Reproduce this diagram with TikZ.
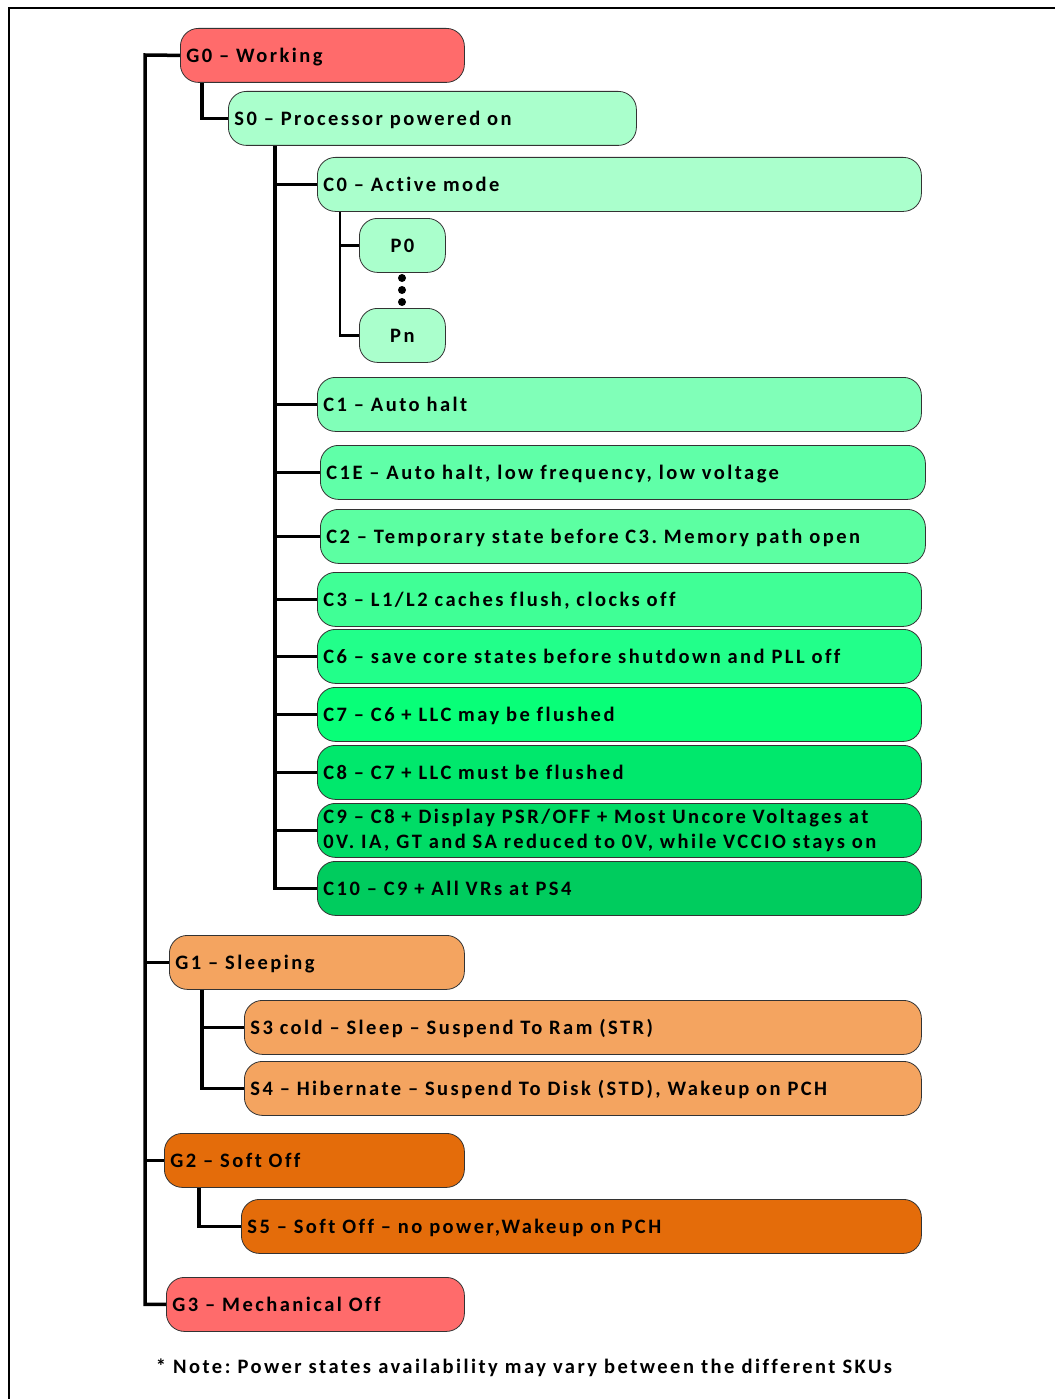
\documentclass[tikz,border=0pt]{standalone}
\usepackage{fontspec}
\setmainfont{Carlito}[LetterSpace=12, Ligatures=NoCommon]
\usetikzlibrary{positioning}

\definecolor{gred}{HTML}{FF6B6B}
\definecolor{mint}{HTML}{AAFFCC}
\definecolor{cone}{HTML}{80FFB8}
\definecolor{conee}{HTML}{60FFA8}
\definecolor{ctwo}{HTML}{5CFFA2}
\definecolor{cthree}{HTML}{40FF96}
\definecolor{csix}{HTML}{22FF8A}
\definecolor{cseven}{HTML}{08FF78}
\definecolor{ceight}{HTML}{00E86C}
\definecolor{cnine}{HTML}{00DC66}
\definecolor{cten}{HTML}{00CC5E}
\definecolor{sandy}{HTML}{F4A460}
\definecolor{burnt}{HTML}{E46C0A}

\tikzset{
  state/.style={draw=black!80, line width=0.8pt, rounded corners=18pt,
    anchor=north west, minimum height=54pt, inner xsep=6pt, inner ysep=0pt,
    text height=17pt, text depth=3pt,
    align=left, font=\bfseries\fontsize{20.5}{25}\selectfont},
  link/.style={line width=3.5pt},
  sublink/.style={line width=2.5pt},
}

\begin{document}
\frenchspacing
\begin{tikzpicture}[x=1pt, y=-1pt]
    \useasboundingbox (0, 0) rectangle (1055, 1399);
    \draw[line width=2pt] (9, 1399) -- (9, 8) -- (1055, 8);

    % global and sleep states
    \node[state, fill=gred, text width=272pt] (g0) at (180, 28) {G0 – Working};
    \node[state, fill=mint, text width=396pt] (s0) at (228, 91) {S0 – Processor powered on};

    % C states
    \node[state, fill=mint, text width=592pt] (c0) at (317, 157) {C0 – Active mode};
    \node[state, fill=mint, text width=74pt, align=center] (p0) at (359, 218) {P0};
    \node[state, fill=mint, text width=74pt, align=center] (pn) at (359, 308) {Pn};
    \node[state, fill=cone, text width=592pt] (c1) at (317, 377) {C1 – Auto halt};
    \node[state, fill=conee, text width=593pt] (c1e) at (320, 445)
	{C1E – Auto halt, low frequency, low voltage};
    \node[state, fill=ctwo, text width=593pt] (c2) at (320, 509)
	{C2 – Temporary state before C3. Memory path open};
    \node[state, fill=cthree, text width=592pt] (c3) at (317, 572)
	{C3 – L1/L2 caches flush, clocks off};
    \node[state, fill=csix, text width=592pt] (c6) at (317, 629)
	{C6 – save core states before shutdown and PLL off};
    \node[state, fill=cseven, text width=592pt] (c7) at (317, 687)
	{C7 – C6 + LLC may be flushed};
    \node[state, fill=ceight, text width=592pt] (c8) at (317, 745)
	{C8 – C7 + LLC must be flushed};
    \node[state, fill=cnine, text width=592pt, text height=, text depth=] (c9) at (317, 803)
	{C9 – C8 + Display PSR/OFF + Most Uncore Voltages at\\
	 0V. IA, GT and SA reduced to 0V, while VCCIO stays on};
    \node[state, fill=cten, text width=592pt] (c10) at (317, 861)
	{C10 – C9 + All VRs at PS4};

    \node[state, fill=sandy, text width=283pt] (g1) at (169, 935) {G1 – Sleeping};
    \node[state, fill=sandy, text width=665pt] (s3) at (244, 1000)
	{S3 cold – Sleep – Suspend To Ram (STR)};
    \node[state, fill=sandy, text width=665pt] (s4) at (244, 1061)
	{S4 – Hibernate – Suspend To Disk (STD), Wakeup on PCH};
    \node[state, fill=burnt, text width=288pt] (g2) at (164, 1133) {G2 – Soft Off};
    \node[state, fill=burnt, text width=668pt] (s5) at (241, 1199)
	{S5 – Soft Off – no power,Wakeup on PCH};
    \node[state, fill=gred, text width=286pt] (g3) at (166, 1277) {G3 – Mechanical Off};

    % tree lines
    \coordinate (gtrunk) at (145, 55);
    \coordinate (strunk) at ([xshift=47pt]s0.south west);
    \coordinate (ptrunk) at ([xshift=23pt]c0.south west);
    \coordinate (sltrunk) at ([xshift=33pt]g1.south west);
    \draw[link] (g0.west) -- (gtrunk) |- (g3.west);
    \foreach \n in {g1, g2}
	\draw[link] (\n.west -| gtrunk) -- (\n.west);
    \draw[link] ([xshift=22pt]g0.south west) |- (s0.west);
    \draw[link] (strunk) |- (c10.west);
    \foreach \n in {c0, c1, c1e, c2, c3, c6, c7, c8, c9}
	\draw[link] (\n.west -| strunk) -- (\n.west);
    \draw[sublink] (ptrunk) |- (pn.west);
    \draw[sublink] (p0.west -| ptrunk) -- (p0.west);
    \foreach \y in {278, 290, 302}
	\fill (402, \y) circle (4pt);
    \draw[link] (sltrunk) |- (s4.west);
    \draw[link] (s3.west -| sltrunk) -- (s3.west);
    \draw[link] ([xshift=35pt]g2.south west) |- (s5.west);

    \node[font=\bfseries\fontsize{20.5}{25}\selectfont] (note) at (524, 1368)
	{* Note: Power states availability may vary between the different SKUs};
\end{tikzpicture}
\end{document}
